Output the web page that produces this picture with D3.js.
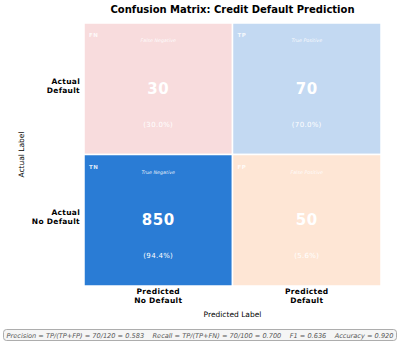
<!DOCTYPE html>
<html>
<head>
<meta charset="utf-8">
<script src="https://cdn.jsdelivr.net/npm/d3@7"></script>
<style>
  body { margin: 0; background: #fff; }
  svg { font-family: "DejaVu Sans", sans-serif; }
</style>
</head>
<body>
<div id="chart"></div>
<script>
// Data
const predicted = ["Predicted\nNo Default", "Predicted\nDefault"];
const actual = ["Actual\nDefault", "Actual\nNo Default"];
const counts = [[30, 70], [850, 50]];
const codes = [["FN", "TP"], ["TN", "FP"]];
const names = [["False Negative", "True Positive"], ["True Negative", "False Positive"]];
const cellColors = [["#f8dcdd", "#c3d9f2"], ["#2a7cd5", "#fee6d5"]];
const metricsText = "Precision = TP/(TP+FP) = 70/120 = 0.583    Recall = TP/(TP+FN) = 70/100 = 0.700    F1 = 0.636    Accuracy = 0.920";

const w = 400;
const h = 345;
const plotLeft = 84, plotRight = 381, plotTop = 23, plotBottom = 286;

const svg = d3.select("#chart").append("svg")
  .attr("width", w)
  .attr("height", h);

// Scales
const xScale = d3.scaleBand().domain(d3.range(predicted.length)).range([plotLeft, plotRight]);
const yScale = d3.scaleBand().domain(d3.range(actual.length)).range([plotTop, plotBottom]);

// Title
svg.append("text")
  .attr("x", (plotLeft + plotRight) / 2)
  .attr("y", 13)
  .attr("text-anchor", "middle")
  .attr("font-size", 10)
  .attr("font-weight", "bold")
  .text("Confusion Matrix: Credit Default Prediction");

// Cells
const cells = [];
counts.forEach((row, r) => row.forEach((v, c) => {
  const rowTotal = d3.sum(row);
  cells.push({ r, c, v, pct: v / rowTotal * 100 });
}));

const g = svg.append("g");

g.selectAll("rect")
  .data(cells)
  .enter()
  .append("rect")
  .attr("x", d => xScale(d.c))
  .attr("y", d => yScale(d.r))
  .attr("width", xScale.bandwidth())
  .attr("height", yScale.bandwidth())
  .attr("fill", d => cellColors[d.r][d.c])
  .attr("stroke", "#fff")
  .attr("stroke-width", 1.5);

// corner code
g.selectAll(".code")
  .data(cells)
  .enter()
  .append("text")
  .attr("x", d => xScale(d.c) + 5)
  .attr("y", d => yScale(d.r) + 14)
  .attr("font-size", 5.5)
  .attr("font-weight", "bold")
  .attr("letter-spacing", 0.6)
  .attr("fill", "#fff")
  .attr("fill-opacity", 0.85)
  .text(d => codes[d.r][d.c]);

// subtitle
g.selectAll(".name")
  .data(cells)
  .enter()
  .append("text")
  .attr("x", d => xScale(d.c) + xScale.bandwidth() / 2)
  .attr("y", d => yScale(d.r) + 19)
  .attr("text-anchor", "middle")
  .attr("font-size", 4.8)
  .attr("font-style", "italic")
  .attr("fill", "#fff")
  .attr("fill-opacity", 0.9)
  .text(d => names[d.r][d.c]);

// count
g.selectAll(".count")
  .data(cells)
  .enter()
  .append("text")
  .attr("x", d => xScale(d.c) + xScale.bandwidth() / 2)
  .attr("y", d => yScale(d.r) + yScale.bandwidth() / 2)
  .attr("text-anchor", "middle")
  .attr("dominant-baseline", "central")
  .attr("font-size", 15)
  .attr("font-weight", "bold")
  .attr("letter-spacing", 0.5)
  .attr("fill", "#fff")
  .text(d => d.v);

// percentage
g.selectAll(".pct")
  .data(cells)
  .enter()
  .append("text")
  .attr("x", d => xScale(d.c) + xScale.bandwidth() / 2)
  .attr("y", d => yScale(d.r) + yScale.bandwidth() / 2 + 36)
  .attr("text-anchor", "middle")
  .attr("dominant-baseline", "central")
  .attr("font-size", 7)
  .attr("letter-spacing", 0.3)
  .attr("fill", "#fff")
  .text(d => `(${d.pct.toFixed(1)}%)`);

// Y tick labels
actual.forEach((lab, i) => {
  const t = svg.append("text")
    .attr("x", plotLeft - 4)
    .attr("y", yScale(i) + yScale.bandwidth() / 2)
    .attr("text-anchor", "end")
    .attr("font-size", 7.5)
    .attr("font-weight", "bold")
    .attr("letter-spacing", 0.3);
  lab.split("\n").forEach((ln, k) => {
    t.append("tspan")
      .attr("x", plotLeft - 4)
      .attr("dy", k === 0 ? -5 : 9)
      .text(ln);
  });
});

// X tick labels
predicted.forEach((lab, i) => {
  const t = svg.append("text")
    .attr("x", xScale(i) + xScale.bandwidth() / 2)
    .attr("y", plotBottom + 8)
    .attr("text-anchor", "middle")
    .attr("font-size", 7.5)
    .attr("font-weight", "bold")
    .attr("letter-spacing", 0.3);
  lab.split("\n").forEach((ln, k) => {
    t.append("tspan")
      .attr("x", xScale(i) + xScale.bandwidth() / 2)
      .attr("dy", k === 0 ? 0 : 9)
      .text(ln);
  });
});

// Axis titles
svg.append("text")
  .attr("x", (plotLeft + plotRight) / 2)
  .attr("y", plotBottom + 31)
  .attr("text-anchor", "middle")
  .attr("font-size", 7.5)
  .text("Predicted Label");

svg.append("text")
  .attr("transform", `translate(24, ${(plotTop + plotBottom) / 2}) rotate(-90)`)
  .attr("text-anchor", "middle")
  .attr("font-size", 7.5)
  .text("Actual Label");

// Metrics footer
svg.append("rect")
  .attr("x", 3.5)
  .attr("y", 329.5)
  .attr("width", 393)
  .attr("height", 11)
  .attr("rx", 3)
  .attr("fill", "#f5f5f5")
  .attr("stroke", "#999")
  .attr("stroke-width", 0.8);

svg.append("text")
  .attr("x", 200)
  .attr("y", 335.5)
  .attr("text-anchor", "middle")
  .attr("dominant-baseline", "central")
  .attr("font-size", 6.6)
  .attr("font-style", "italic")
  .attr("fill", "#555")
  .style("white-space", "pre")
  .text(metricsText);
</script>
</body>
</html>
